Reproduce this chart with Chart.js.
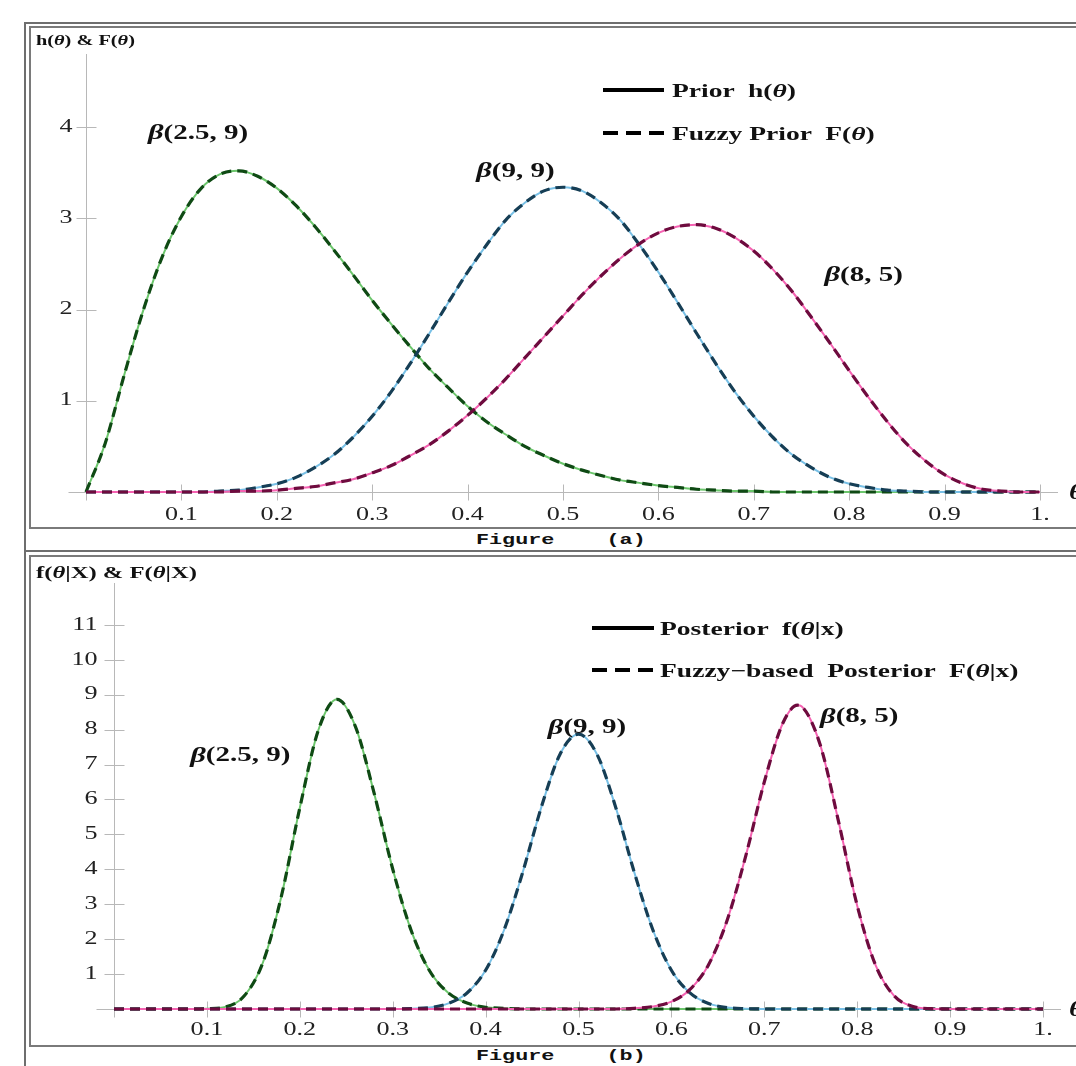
<!DOCTYPE html>
<html><head><meta charset="utf-8">
<script src="https://cdn.jsdelivr.net/npm/chart.js@4.4.1/dist/chart.umd.min.js"></script>
<style>
html,body{margin:0;padding:0;background:#fff;}
body{width:1076px;height:1066px;overflow:hidden;position:relative;font-family:"Liberation Serif","Times New Roman",serif;color:#111;}
.ln{position:absolute;background:#6e6e6e;}
.box{position:absolute;border:2px solid #7a7a7a;box-sizing:border-box;}
canvas{position:absolute;}
.txt{position:absolute;white-space:pre;transform-origin:0 50%;transform:scaleX(1.45);font-weight:bold;line-height:1;}
.txt i{font-style:italic;}
.cap{position:absolute;white-space:pre;transform-origin:0 50%;transform:scaleX(1.45);font-family:"Liberation Mono",monospace;font-weight:bold;font-size:15px;line-height:1;}
.sw{position:absolute;height:4px;width:61px;}
.solid{background:#000;}
.dash{background:repeating-linear-gradient(90deg,#000 0 15px,transparent 15px 23px);}
</style></head><body>

<div class="ln" style="left:24px;top:22px;width:2px;height:1044px"></div>
<div class="ln" style="left:24px;top:22px;width:1052px;height:2px"></div>
<div class="box" style="left:29px;top:26px;width:1060px;height:503px"></div>
<div class="ln" style="left:24px;top:550px;width:1052px;height:2px"></div>
<div class="box" style="left:29px;top:555px;width:1060px;height:492px"></div>

<canvas id="cA" width="1045" height="500" style="left:31px;top:28px;width:1045px;height:500px"></canvas>
<canvas id="cB" width="1045" height="487" style="left:31px;top:558px;width:1045px;height:487px"></canvas>

<div class="txt" style="left:36px;top:34px;font-size:14px">h(<i>θ</i>) &amp; F(<i>θ</i>)</div>
<div class="txt" style="left:36px;top:563.5px;font-size:17px">f(<i>θ</i>|X) &amp; F(<i>θ</i>|X)</div>

<div class="sw solid" style="left:603px;top:88px"></div>
<div class="txt" style="left:672px;top:80.5px;font-size:19px">Prior  h(<i>θ</i>)</div>
<div class="sw dash" style="left:603px;top:131px"></div>
<div class="txt" style="left:672px;top:123.5px;font-size:19px">Fuzzy Prior  F(<i>θ</i>)</div>

<div class="sw solid" style="left:592px;top:626px;width:62px"></div>
<div class="txt" style="left:660px;top:618.5px;font-size:19px">Posterior  f(<i>θ</i>|x)</div>
<div class="sw dash" style="left:592px;top:668px;width:62px"></div>
<div class="txt" style="left:660px;top:660.5px;font-size:19px">Fuzzy−based  Posterior  F(<i>θ</i>|x)</div>

<div class="cap" style="left:476px;top:533px">Figure    (a)</div>
<div class="cap" style="left:476px;top:1049px">Figure    (b)</div>

<div class="txt" style="left:1069px;top:482px;font-size:20px"><i>θ</i></div>
<div class="txt" style="left:1069px;top:999px;font-size:20px"><i>θ</i></div>

<script>
// ---------- data ----------
const thetaPrior = [0,0.02,0.04,0.06,0.08,0.10,0.12,0.14,0.16,0.18,0.20,0.22,0.24,0.26,0.28,0.30,0.32,0.34,0.36,0.38,0.40,0.42,0.44,0.46,0.48,0.50,0.52,0.54,0.56,0.58,0.60,0.62,0.64,0.66,0.68,0.70,0.72,0.74,0.76,0.78,0.80,0.82,0.84,0.86,0.88,0.90,0.92,0.94,0.96,0.98,1.00];
const prior25_9 = [0,0.53,1.28,1.99,2.58,3.02,3.32,3.48,3.52,3.46,3.33,3.14,2.91,2.65,2.38,2.10,1.84,1.59,1.35,1.14,0.94,0.77,0.63,0.50,0.40,0.31,0.24,0.18,0.13,0.10,0.07,0.05,0.03,0.02,0.01,0.01,0,0,0,0,0,0,0,0,0,0,0,0,0,0,0];
const prior9_9 = [0,0,0,0,0,0,0,0.01,0.02,0.05,0.09,0.16,0.27,0.41,0.60,0.83,1.10,1.41,1.74,2.08,2.41,2.71,2.98,3.17,3.30,3.34,3.30,3.17,2.98,2.71,2.41,2.08,1.74,1.41,1.10,0.83,0.60,0.41,0.27,0.16,0.09,0.05,0.02,0.01,0,0,0,0,0,0,0];
const prior8_5 = [0,0,0,0,0,0,0,0,0.01,0.01,0.02,0.04,0.06,0.10,0.14,0.21,0.29,0.40,0.52,0.67,0.84,1.03,1.24,1.47,1.70,1.93,2.16,2.37,2.56,2.72,2.84,2.91,2.93,2.89,2.79,2.64,2.44,2.20,1.92,1.63,1.33,1.04,0.77,0.53,0.34,0.19,0.09,0.03,0.01,0,0];

const thetaPost25_9 = [0,0.08,0.10,0.12,0.14,0.16,0.18,0.20,0.22,0.24,0.26,0.28,0.30,0.32,0.34,0.36,0.38,0.40,0.42,0.44,0.46,0.48,1];
const post25_9 = [0,0,0.01,0.06,0.37,1.31,3.21,5.76,7.99,8.87,8.08,6.18,4.01,2.24,1.08,0.46,0.17,0.05,0.02,0,0,0,0];
const thetaPost9_9 = [0,0.28,0.30,0.32,0.34,0.36,0.38,0.40,0.42,0.44,0.46,0.48,0.50,0.52,0.54,0.56,0.58,0.60,0.62,0.64,0.66,0.68,0.70,0.72,1];
const post9_9 = [0,0,0,0.01,0.04,0.16,0.46,1.11,2.27,3.92,5.78,7.29,7.87,7.29,5.78,3.92,2.27,1.11,0.46,0.16,0.04,0.01,0,0,0];
const thetaPost8_5 = [0,0.54,0.56,0.58,0.60,0.62,0.64,0.66,0.68,0.70,0.72,0.736,0.74,0.76,0.78,0.80,0.82,0.84,0.86,0.88,0.90,1];
const post8_5 = [0,0,0.02,0.07,0.21,0.56,1.27,2.54,4.38,6.50,8.19,8.70,8.67,7.58,5.36,2.96,1.24,0.37,0.07,0.01,0,0];

const seriesNames = ['β(2.5, 9)','β(9, 9)','β(8, 5)'];
const annotParams = ['(2.5, 9)','(9, 9)','(8, 5)'];
const annotThetaA = [0.065,0.409,0.774];
const annotValueA = [3.93,3.51,2.37];
const annotThetaB = [0.082,0.467,0.760];
const annotValueB = [7.24,8.04,8.36];

const xTickValues = [0.1,0.2,0.3,0.4,0.5,0.6,0.7,0.8,0.9,1.0];
const xTickLabels = ['0.1','0.2','0.3','0.4','0.5','0.6','0.7','0.8','0.9','1.'];
const yTickValuesA = [1,2,3,4];
const yTickValuesB = [1,2,3,4,5,6,7,8,9,10,11];

// ---------- styling ----------
const solidColors = ['#6cc66c','#78c0e6','#f562b2'];
const dashColors  = ['#0f4a14','#163e55','#6e0b3e'];
const SX = 1.45;

function pairs(xs, ys){ return xs.map((x,i)=>({x:x, y:ys[i]})); }
function buildDatasets(xsList, ysList){
  const ds = [];
  for (let k = 2; k >= 0; k--) {
    ds.push({label: seriesNames[k]+' fuzzy', data: pairs(xsList[k], ysList[k]), borderColor: dashColors[k], borderWidth: 3.2, borderDash:[10,6], pointRadius:0, cubicInterpolationMode:'monotone', fill:false, clip:false});
    ds.push({label: seriesNames[k], data: pairs(xsList[k], ysList[k]), borderColor: solidColors[k], borderWidth: 2, pointRadius:0, cubicInterpolationMode:'monotone', fill:false, clip:false});
  }
  return ds;
}

function drawParts(ctx, parts, x, y, align){
  let w = 0;
  parts.forEach(p=>{ ctx.font = p.font; p.w = ctx.measureText(p.text).width; w += p.w; });
  const sx = align==='center' ? x - w*SX/2 : (align==='right' ? x - w*SX : x);
  ctx.save(); ctx.translate(sx, y); ctx.scale(SX, 1);
  ctx.textAlign = 'left'; ctx.textBaseline = 'middle';
  let cx = 0;
  parts.forEach(p=>{ ctx.font = p.font; ctx.fillText(p.text, cx, 0); cx += p.w; });
  ctx.restore();
}

function makeChart(id, xsList, ysList, yMax, yTicks, yWidth, padTop, padRight, yLabelGap, xLabelGap, annTheta, annValue){
  const crossAxes = {
    id: 'crossAxes',
    beforeDatasetsDraw(chart){
      const ctx = chart.ctx, xs = chart.scales.x, ys = chart.scales.y;
      const x0 = Math.round(xs.getPixelForValue(0)) + 0.5;
      const y0 = Math.round(ys.getPixelForValue(0)) + 0.5;
      ctx.save();
      ctx.strokeStyle = '#b8b8b8'; ctx.lineWidth = 1;
      ctx.beginPath();
      ctx.moveTo(x0 - 18, y0); ctx.lineTo(xs.right + 18, y0);
      ctx.moveTo(x0, ys.top); ctx.lineTo(x0, y0 + 8);
      xs.ticks.forEach(t=>{ const px = Math.round(xs.getPixelForValue(t.value)) + 0.5; ctx.moveTo(px, y0 - 8); ctx.lineTo(px, y0 + 8); });
      ys.ticks.forEach(t=>{ const py = Math.round(ys.getPixelForValue(t.value)) + 0.5; ctx.moveTo(x0 - 10, py); ctx.lineTo(x0 + 10, py); });
      ctx.stroke();
      ctx.fillStyle = '#222';
      const f = '18px "Liberation Serif", serif';
      xs.ticks.forEach((t,i)=>{ drawParts(ctx, [{text: xTickLabels[i], font: f}], xs.getPixelForValue(t.value), y0 + xLabelGap, 'center'); });
      ys.ticks.forEach(t=>{ drawParts(ctx, [{text: String(t.value), font: f}], x0 - yLabelGap, ys.getPixelForValue(t.value), 'right'); });
      ctx.restore();
    },
    afterDatasetsDraw(chart){
      const ctx = chart.ctx, xs = chart.scales.x, ys = chart.scales.y;
      ctx.save(); ctx.fillStyle = '#111';
      annTheta.forEach((th,i)=>{
        drawParts(ctx, [
          {text:'β', font:'italic bold 21px "Liberation Serif", serif'},
          {text: annotParams[i], font:'bold 20px "Liberation Serif", serif'}
        ], xs.getPixelForValue(th), ys.getPixelForValue(annValue[i]), 'left');
      });
      ctx.restore();
    }
  };
  return new Chart(document.getElementById(id), {
    type: 'line',
    data: { datasets: buildDatasets(xsList, ysList) },
    options: {
      responsive: false, animation: false, events: [],
      layout: { padding: { top: padTop, right: padRight, left: 0, bottom: 0 } },
      plugins: { legend: { display: false }, tooltip: { enabled: false } },
      scales: {
        x: { type: 'linear', min: 0, max: 1, grid: { display: false }, border: { display: false }, ticks: { display: false },
             afterBuildTicks: s => { s.ticks = xTickValues.map(v => ({ value: v })); },
             afterFit: s => { s.height = 36; } },
        y: { type: 'linear', min: 0, max: yMax, grid: { display: false }, border: { display: false }, ticks: { display: false },
             afterBuildTicks: s => { s.ticks = yTicks.map(v => ({ value: v })); },
             afterFit: s => { s.width = yWidth; } }
      }
    },
    plugins: [crossAxes]
  });
}

makeChart('cA', [thetaPrior, thetaPrior, thetaPrior], [prior25_9, prior9_9, prior8_5], 4.8, yTickValuesA, 55, 26, 36, 14, 23, annotThetaA, annotValueA);
makeChart('cB', [thetaPost25_9, thetaPost9_9, thetaPost8_5], [post25_9, post9_9, post8_5], 12.2, yTickValuesB, 83, 25, 33, 17, 21, annotThetaB, annotValueB);
</script>
</body></html>
